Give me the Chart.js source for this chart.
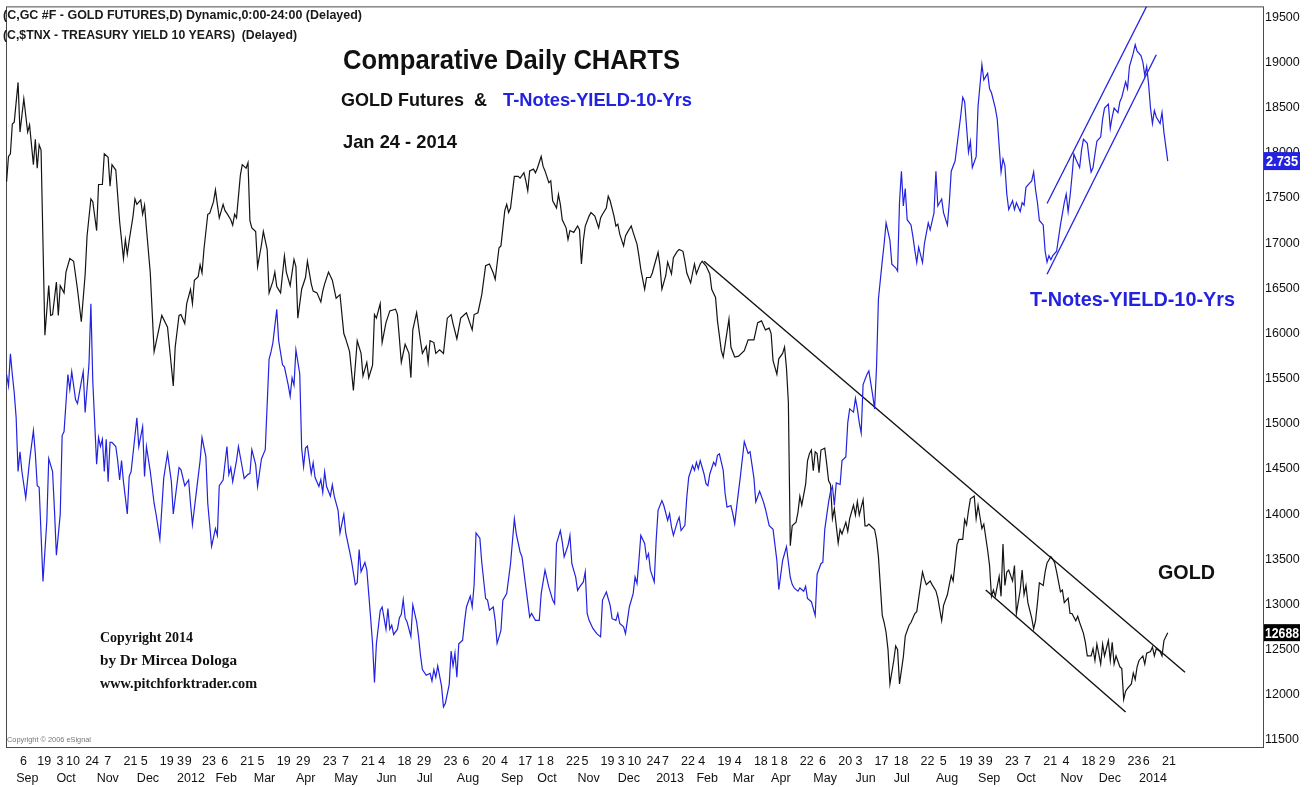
<!DOCTYPE html>
<html>
<head>
<meta charset="utf-8">
<title>Comparative Daily CHARTS</title>
<script src="https://cdn.jsdelivr.net/npm/chart.js@4.4.1/dist/chart.umd.min.js"></script>
<style>
  html, body { margin: 0; padding: 0; background: #fff; }
  #wrap { width: 1312px; height: 787px; }
</style>
</head>
<body>
<div id="wrap"><canvas id="chart" width="1312" height="787"></canvas></div>
<script>
// x values are trading days counted from Tue 6 Sep 2011 (day 0)
// gold futures, shown x10 like the eSignal scale
var goldDays = [-7,-6,-5,-4,-3,-1,0,2,4,5,7,8,9,10,11,13,15,16,17,19,20,21,23,24,26,28,30,32,34,35,37,38,40,41,43,44,46,47,48,50,52,54,55,56,57,59,60,61,63,64,65,66,68,70,72,74,77,78,80,81,83,84,86,87,89,90,91,93,94,95,96,98,99,101,102,103,104,106,107,108,110,111,112,113,115,116,118,119,120,121,123,124,126,127,129,130,132,133,134,136,138,139,141,143,144,145,147,149,150,152,153,155,157,158,159,161,163,165,167,169,170,172,174,176,178,179,181,182,184,185,186,188,189,191,193,196,197,199,201,203,204,205,207,209,210,212,213,214,216,217,219,221,223,225,226,228,230,232,233,236,237,239,241,243,245,247,248,250,251,253,254,255,256,258,260,261,263,264,265,266,268,269,270,272,273,274,276,277,278,280,281,282,283,285,286,287,289,291,292,293,294,295,297,298,300,302,303,304,306,307,308,310,311,312,313,315,316,317,319,320,322,323,324,326,327,329,330,331,333,334,335,337,338,340,341,343,344,346,347,348,350,351,352,353,355,356,358,360,361,363,364,366,367,368,370,371,373,375,378,380,383,385,387,389,391,392,393,395,396,398,399,400,401,402,403,405,406,407,408,410,411,412,413,414,415,416,417,418,420,421,422,423,424,425,427,428,429,431,432,433,435,436,437,438,440,441,442,443,445,446,447,448,450,451,452,453,454,456,457,458,459,461,462,464,465,467,468,469,471,472,473,475,476,478,479,481,482,484,485,486,487,489,490,492,493,494,495,496,498,499,500,502,503,505,506,507,508,509,511,512,513,514,515,516,518,519,520,522,523,524,525,526,528,529,530,531,532,534,535,536,538,539,540,541,543,544,545,547,548,549,551,552,553,555,556,557,559,560,561,562,564,565,566,568,569,570,571,572,574,575,576,577,578,580,581,582,583,584,586,587,588,590,591,592,593,595,596,597,599];
var goldValues = [17680,17960,17990,18320,18340,18780,18230,18600,18230,18310,17870,18150,17830,18090,18030,15980,16530,16200,16210,16570,16200,16530,16450,16680,16830,16800,16490,16130,16650,17080,17490,17460,17140,17650,17650,17990,17950,17630,17870,17810,17240,16830,17040,16880,17030,17300,17490,17430,17480,17320,17420,17160,16670,15800,16000,16200,16070,15850,15420,15850,16200,16210,16110,16330,16490,16330,16590,16630,16760,16670,16930,17320,17330,17460,17590,17430,17280,17430,17360,17330,17260,17200,17320,17280,17750,17870,17830,17890,17250,17170,17130,16740,16980,17130,16930,16450,16580,16680,16520,16450,16860,16680,16530,16820,16740,16170,16490,16620,16800,16550,16470,16450,16350,16470,16550,16680,16590,16390,16430,16000,15940,15800,15370,15920,15780,15530,15680,15510,15650,16210,16170,16330,15900,16120,16250,16270,16210,15680,15880,15780,15510,16040,16230,15920,15780,15860,15680,15920,15900,15780,15820,15780,16170,16210,16110,15940,16170,16210,16230,16040,16210,16230,16430,16750,16770,16670,16600,16950,16970,17360,17430,17340,17390,17740,17740,17720,17780,17690,17580,17800,17820,17780,17830,17960,17850,17800,17670,17690,17470,17390,17540,17430,17260,17170,17040,17140,17120,17190,17150,16770,17030,17190,17300,17340,17300,17170,17280,17320,17390,17520,17470,17300,17190,17210,17100,16970,17080,17120,17190,17120,16990,16860,16710,16490,16620,16620,16670,16750,16900,16750,16490,16640,16790,16660,16840,16910,16930,16910,16800,16670,16560,16670,16770,16660,16770,16800,16750,16660,16490,16400,16140,15810,15740,15880,16160,15850,15740,15750,15810,15930,15930,16120,16140,16040,16060,16000,15700,15550,15720,15780,15850,15620,15240,13650,13870,13910,14020,14200,14100,14330,14590,14670,14710,14480,14690,14670,14460,14710,14730,14560,14370,14330,13950,14060,13680,13830,13780,13910,13810,13950,14100,13990,14140,13990,14160,13870,13870,13890,13850,13830,13720,13530,12880,12800,12690,12500,12120,12380,12540,12500,12120,12420,12650,12770,12800,12900,12920,13070,13360,13280,13220,13260,13220,13150,13070,12820,12990,13110,13220,13320,13260,13660,13720,13720,13940,13880,14040,14170,14200,13950,14100,13840,13890,13600,13430,13090,13160,13090,13310,13090,13670,13210,13360,13380,13260,13430,12900,13160,13380,13110,13210,13020,12850,12730,12820,13020,13240,13210,13360,13460,13530,13500,13460,13360,13140,13160,13020,13070,12900,12900,12820,12870,12800,12680,12580,12430,12430,12510,12380,12560,12340,12560,12430,12600,12380,12580,12340,12430,12310,12290,11950,12040,12070,12120,12240,12170,12310,12380,12430,12340,12460,12480,12530,12430,12510,12480,12430,12600,12688];

// 10-year treasury yield, percent
var yieldDays = [-7,-6,-5,-4,-3,-2,-1,0,1,3,5,7,8,9,10,12,14,15,17,18,19,21,22,23,25,26,27,29,30,32,33,34,36,37,38,40,41,42,43,44,45,46,47,48,50,51,52,53,54,56,57,58,61,62,64,65,66,68,70,71,73,75,77,79,80,83,84,86,88,89,90,92,94,95,97,98,100,102,103,104,106,108,109,110,111,113,114,116,117,119,120,121,123,124,126,128,130,131,132,134,135,137,138,140,141,142,143,144,146,147,148,149,150,152,153,154,156,157,158,159,160,162,163,164,166,167,169,170,172,173,175,176,177,178,180,181,183,184,185,186,188,189,191,192,193,194,195,197,198,199,200,201,202,204,205,207,208,209,210,212,214,215,216,217,218,220,221,222,224,225,226,227,228,229,231,232,233,235,236,237,238,240,241,243,244,245,247,248,249,251,252,254,256,258,259,261,262,264,266,267,269,271,272,274,276,278,279,280,282,283,284,286,287,288,290,291,292,294,295,296,297,299,301,303,304,306,308,309,311,312,313,315,316,317,318,320,321,322,323,324,326,327,328,329,331,332,333,335,336,338,339,340,341,343,344,345,347,348,349,351,352,353,354,355,357,358,359,360,362,363,364,365,367,368,369,371,372,373,374,376,378,380,381,383,384,386,388,389,391,393,395,396,398,400,402,403,404,406,407,409,410,411,413,415,416,418,419,420,422,423,424,425,426,428,429,431,432,433,435,436,437,438,439,440,442,443,445,446,447,448,450,451,452,454,455,457,458,459,460,461,462,463,465,466,467,468,469,471,472,474,475,477,478,479,481,482,484,485,486,488,491,492,493,495,496,497,499,500,502,503,505,506,507,509,510,511,512,513,514,515,516,518,519,520,522,523,524,525,527,528,529,530,531,532,534,535,536,537,538,539,541,542,543,545,546,547,548,549,550,551,553,554,555,557,558,559,560,561,562,564,565,566,568,569,570,571,573,574,575,577,578,579,581,582,583,585,586,587,588,589,590,591,592,593,595,596,597,599];
var yieldValues = [2.207,2.179,2.258,2.207,2.162,2.100,1.967,2.016,1.967,1.902,1.994,2.068,2.012,1.932,1.928,1.695,1.844,1.999,1.967,1.871,1.760,1.861,2.056,2.066,2.207,2.170,2.214,2.145,2.135,2.189,2.214,2.113,2.232,2.382,2.189,1.985,2.051,2.029,2.047,1.967,2.047,1.942,2.039,2.039,2.029,1.994,1.946,1.994,1.942,1.862,1.955,1.967,2.100,2.029,2.078,1.955,2.029,1.967,1.888,1.862,1.800,1.950,2.012,1.942,1.862,1.977,1.972,1.932,1.946,1.888,1.836,1.915,1.994,2.051,2.004,1.888,1.782,1.826,1.809,1.932,1.946,2.029,1.960,1.977,1.942,1.994,2.029,1.977,1.950,1.960,1.962,2.021,1.984,1.930,1.998,2.021,2.245,2.263,2.286,2.368,2.291,2.231,2.226,2.181,2.153,2.199,2.181,2.268,2.209,2.025,1.979,2.025,2.030,1.962,1.989,1.952,1.930,1.947,1.915,1.966,1.930,1.906,1.934,1.906,1.871,1.815,1.861,1.815,1.770,1.746,1.687,1.692,1.774,1.719,1.742,1.724,1.605,1.541,1.445,1.541,1.623,1.632,1.577,1.628,1.577,1.587,1.564,1.577,1.605,1.614,1.650,1.605,1.595,1.559,1.637,1.595,1.559,1.513,1.477,1.463,1.468,1.449,1.477,1.458,1.486,1.436,1.385,1.394,1.440,1.523,1.486,1.518,1.458,1.541,1.550,1.595,1.632,1.659,1.632,1.687,1.815,1.802,1.742,1.653,1.649,1.624,1.632,1.599,1.542,1.574,1.649,1.665,1.739,1.850,1.813,1.768,1.756,1.681,1.607,1.616,1.599,1.599,1.665,1.723,1.681,1.649,1.640,1.789,1.821,1.793,1.756,1.784,1.809,1.739,1.706,1.673,1.681,1.694,1.719,1.616,1.599,1.579,1.566,1.558,1.649,1.669,1.636,1.603,1.599,1.616,1.591,1.583,1.566,1.599,1.632,1.665,1.706,1.690,1.747,1.809,1.789,1.752,1.764,1.723,1.694,1.797,1.871,1.895,1.883,1.846,1.863,1.830,1.809,1.842,1.854,1.821,1.834,1.904,1.953,1.982,1.970,1.990,1.974,1.994,1.961,1.937,1.932,1.961,1.990,1.982,2.007,2.011,1.970,1.912,1.879,1.883,1.863,1.838,1.879,1.957,2.041,2.012,2.016,1.952,1.892,1.918,1.892,1.875,1.833,1.824,1.747,1.675,1.747,1.781,1.705,1.688,1.679,1.671,1.679,1.671,1.683,1.653,1.645,1.611,1.713,1.739,1.743,1.824,1.892,1.918,1.930,1.884,1.939,1.935,1.994,2.003,2.088,2.122,2.114,2.148,2.122,2.088,2.062,2.182,2.207,2.216,2.156,2.122,2.224,2.394,2.488,2.531,2.582,2.539,2.480,2.471,2.463,2.633,2.710,2.624,2.667,2.590,2.577,2.548,2.514,2.484,2.522,2.484,2.531,2.582,2.565,2.607,2.710,2.624,2.641,2.607,2.577,2.633,2.710,2.735,2.849,2.893,2.882,2.757,2.784,2.719,2.746,2.871,2.974,2.936,2.952,2.914,2.904,2.866,2.839,2.773,2.708,2.740,2.724,2.653,2.615,2.637,2.615,2.632,2.610,2.632,2.626,2.670,2.681,2.686,2.708,2.664,2.632,2.588,2.577,2.512,2.485,2.501,2.491,2.501,2.512,2.545,2.577,2.632,2.653,2.610,2.648,2.697,2.752,2.740,2.719,2.762,2.789,2.779,2.740,2.708,2.719,2.752,2.784,2.795,2.839,2.866,2.876,2.816,2.844,2.866,2.855,2.882,2.893,2.931,2.914,2.969,3.002,3.023,3.007,2.996,2.980,2.947,2.969,2.925,2.866,2.828,2.860,2.844,2.828,2.855,2.806,2.735];

// trend lines drawn on the original (day, value)
var goldTrendDays = [357, 608];
var goldTrendValues = [16800, 12250];
var goldChannelDays = [504, 577];
var goldChannelValues = [13160, 11810];
var yieldUpperDays = [536, 588];
var yieldUpperValues = [2.630, 3.118];
var yieldLowerDays = [536, 593];
var yieldLowerValues = [2.455, 2.998];

// right axis
var goldTicks = [11500, 12000, 12500, 13000, 13500, 14000, 14500, 15000, 15500, 16000, 16500, 17000, 17500, 18000, 18500, 19000, 19500];

// date axis: day ticks on the first row, month names (at the first session of each month) on the second
var tickDates = ['2011-09-06','2011-09-19','2011-10-03','2011-10-10','2011-10-24','2011-11-07','2011-11-21','2011-12-05','2011-12-19',
  '2012-01-03','2012-01-09','2012-01-23','2012-02-06','2012-02-21','2012-03-05','2012-03-19','2012-04-02','2012-04-09','2012-04-23',
  '2012-05-07','2012-05-21','2012-06-04','2012-06-18','2012-07-02','2012-07-09','2012-07-23','2012-08-06','2012-08-20','2012-09-04',
  '2012-09-17','2012-10-01','2012-10-08','2012-10-22','2012-11-05','2012-11-19','2012-12-03','2012-12-10','2012-12-24',
  '2013-01-07','2013-01-22','2013-02-04','2013-02-19','2013-03-04','2013-03-18','2013-04-01','2013-04-08','2013-04-22','2013-05-06',
  '2013-05-20','2013-06-03','2013-06-17','2013-07-01','2013-07-08','2013-07-22','2013-08-05','2013-08-19','2013-09-03','2013-09-09',
  '2013-09-23','2013-10-07','2013-10-21','2013-11-04','2013-11-18','2013-12-02','2013-12-09','2013-12-23','2014-01-06','2014-01-21'];
var monthTicks = ['2011-09','2011-10','2011-11','2011-12','2012-01','2012-02','2012-03','2012-04','2012-05','2012-06','2012-07',
  '2012-08','2012-09','2012-10','2012-11','2012-12','2013-01','2013-02','2013-03','2013-04','2013-05','2013-06','2013-07',
  '2013-08','2013-09','2013-10','2013-11','2013-12','2014-01'];
var monthNames = ['Jan','Feb','Mar','Apr','May','Jun','Jul','Aug','Sep','Oct','Nov','Dec'];
var holidays = ['2011-09-05','2011-11-24','2011-12-26','2012-01-02','2012-01-16','2012-02-20','2012-04-06','2012-05-28','2012-07-04',
  '2012-09-03','2012-10-29','2012-10-30','2012-11-22','2012-12-25','2013-01-01','2013-01-21','2013-02-18','2013-03-29','2013-05-27',
  '2013-07-04','2013-09-02','2013-11-28','2013-12-25','2014-01-01','2014-01-20'];

// visible ranges of the three scales
var xMin = -7.3, xMax = 648.7;
var goldMin = 11422, goldMax = 19622;
var yieldMin = 1.2856, yieldMax = 3.1177;

var BLUE = '#2222e0';
var SANS = '"Liberation Sans", Arial, sans-serif';
var SERIF = '"Liberation Serif", "Times New Roman", serif';
var DAY = 86400000;
var START = Date.UTC(2011, 8, 6);

function isSession(t) {
  var d = new Date(t);
  var wd = d.getUTCDay();
  return wd !== 0 && wd !== 6 && holidays.indexOf(d.toISOString().slice(0, 10)) < 0;
}

function utc(s) {
  var p = s.split('-');
  return Date.UTC(+p[0], +p[1] - 1, +(p[2] || 1));
}

// trading days between 6 Sep 2011 and a date (negative before it)
function tradingIndex(s) {
  var end = utc(s), n = 0, t;
  if (end >= START) {
    for (t = START; t < end; t += DAY) if (isSession(t)) n++;
  } else {
    for (t = end; t < START; t += DAY) if (isSession(t)) n--;
  }
  return n;
}

function firstSession(month) {
  var t = utc(month);
  while (!isSession(t)) t += DAY;
  return tradingIndex(new Date(t).toISOString().slice(0, 10));
}

var tickDays = tickDates.map(tradingIndex);
var tickLabels = tickDates.map(function (s) { return String(+s.split('-')[2]); });
var monthDays = monthTicks.map(firstSession);
var monthLabels = monthTicks.map(function (m) {
  var p = m.split('-');
  return p[1] === '01' ? p[0] : monthNames[+p[1] - 1];
});

function pts(days, vals) {
  return days.map(function (d, i) { return { x: d, y: vals[i] }; });
}

function line(data, axis, color, width) {
  return {
    data: data, yAxisID: axis, borderColor: color, borderWidth: width,
    pointRadius: 0, tension: 0, fill: false
  };
}

function dateAxis(days, labels, weight, height, padding) {
  return {
    type: 'linear',
    position: 'bottom',
    weight: weight,
    min: xMin,
    max: xMax,
    grid: { display: false, drawTicks: false },
    border: { display: false },
    afterBuildTicks: function (s) { s.ticks = days.map(function (d) { return { value: d }; }); },
    afterFit: function (s) { s.height = height; },
    ticks: {
      autoSkip: false, maxRotation: 0, minRotation: 0, align: 'start', padding: padding,
      color: '#111',
      font: { family: SANS, size: 12.5, lineHeight: 1.2 },
      callback: function (v, i) { return labels[i]; }
    }
  };
}

// text squeezed to the width it has on the original
function fitText(ctx, text, x, y, width, font, color) {
  ctx.save();
  ctx.font = font;
  ctx.fillStyle = color;
  ctx.textBaseline = 'middle';
  ctx.textAlign = 'left';
  var w = ctx.measureText(text).width;
  ctx.translate(x, y);
  ctx.scale(width / w, 1);
  ctx.fillText(text, 0, 0);
  ctx.restore();
}

var framePlugin = {
  id: 'frame',
  beforeDatasetsDraw: function (chart) {
    var a = chart.chartArea, ctx = chart.ctx;
    ctx.save();
    ctx.strokeStyle = '#4a4a4a';
    ctx.lineWidth = 1;
    ctx.strokeRect(a.left + 0.5, a.top + 0.5, a.right - a.left, a.bottom - a.top);
    ctx.restore();
  }
};

var notesPlugin = {
  id: 'notes',
  afterDraw: function (chart) {
    var ctx = chart.ctx;
    fitText(ctx, '(C,GC #F - GOLD FUTURES,D) Dynamic,0:00-24:00 (Delayed)', 3, 15, 359, 'bold 13px ' + SANS, '#1a1a1a');
    fitText(ctx, '(C,$TNX - TREASURY YIELD 10 YEARS)  (Delayed)', 3, 35, 294, 'bold 13px ' + SANS, '#1a1a1a');

    fitText(ctx, 'Comparative Daily CHARTS', 343, 62, 337, 'bold 27px ' + SANS, '#111');
    fitText(ctx, 'GOLD Futures  &', 341, 101, 146, 'bold 19px ' + SANS, '#111');
    fitText(ctx, 'T-Notes-YIELD-10-Yrs', 503, 101, 189, 'bold 19px ' + SANS, BLUE);
    fitText(ctx, 'Jan 24 - 2014', 343, 143, 114, 'bold 19px ' + SANS, '#111');

    fitText(ctx, 'T-Notes-YIELD-10-Yrs', 1030, 300, 205, 'bold 21px ' + SANS, BLUE);
    fitText(ctx, 'GOLD', 1158, 573, 57, 'bold 20px ' + SANS, '#111');

    fitText(ctx, 'Copyright 2014', 100, 638, 93, 'bold 15px ' + SERIF, '#111');
    fitText(ctx, 'by Dr Mircea Dologa', 100, 661, 137, 'bold 15px ' + SERIF, '#111');
    fitText(ctx, 'www.pitchforktrader.com', 100, 684, 157, 'bold 15px ' + SERIF, '#111');
    fitText(ctx, 'Copyright \u00a9 2006 eSignal', 7, 740, 84, '8px ' + SANS, '#777');

    // last-value boxes on the price scale
    var yG = chart.scales.y.getPixelForValue(goldValues[goldValues.length - 1]);
    var yY = chart.scales.y2.getPixelForValue(yieldValues[yieldValues.length - 1]);
    var x0 = chart.chartArea.right + 1;
    ctx.save();
    ctx.fillStyle = BLUE;
    ctx.fillRect(x0, yY - 9, 36, 18);
    ctx.fillStyle = '#000';
    ctx.fillRect(x0, yG - 8.5, 36, 17);
    ctx.restore();
    fitText(ctx, yieldValues[yieldValues.length - 1].toFixed(3), x0 + 2, yY + 1, 32, 'bold 14px ' + SANS, '#fff');
    fitText(ctx, String(goldValues[goldValues.length - 1]), x0 + 1, yG + 1, 34, 'bold 14px ' + SANS, '#fff');
  }
};

var ctx = document.getElementById('chart').getContext('2d');
var chart = new Chart(ctx, {
  type: 'line',
  data: {
    datasets: [
      line(pts(yieldDays, yieldValues), 'y2', BLUE, 1.2),
      line(pts(goldDays, goldValues), 'y', '#141414', 1.2),
      line(pts(goldTrendDays, goldTrendValues), 'y', '#111', 1.4),
      line(pts(goldChannelDays, goldChannelValues), 'y', '#111', 1.4),
      line(pts(yieldUpperDays, yieldUpperValues), 'y2', BLUE, 1.3),
      line(pts(yieldLowerDays, yieldLowerValues), 'y2', BLUE, 1.3)
    ]
  },
  options: {
    responsive: false,
    animation: false,
    devicePixelRatio: 1,
    layout: { padding: { left: 6, top: 3, right: 0, bottom: 0 } },
    plugins: { legend: { display: false }, tooltip: { enabled: false } },
    scales: {
      x: dateAxis(tickDays, tickLabels, 0, 23, 7.5),
      xm: dateAxis(monthDays, monthLabels, 1, 17, 1.5),
      y: {
        position: 'right',
        min: goldMin,
        max: goldMax,
        grid: { display: false, drawTicks: false },
        border: { display: false },
        afterBuildTicks: function (s) { s.ticks = goldTicks.map(function (v) { return { value: v }; }); },
        afterFit: function (s) { s.width = 49; },
        ticks: {
          padding: 2, color: '#111',
          font: { family: SANS, size: 12.5, lineHeight: 0.7 },
          callback: function (v) { return String(v); }
        }
      },
      y2: { display: false, min: yieldMin, max: yieldMax }
    }
  },
  plugins: [framePlugin, notesPlugin]
});
</script>
</body>
</html>
